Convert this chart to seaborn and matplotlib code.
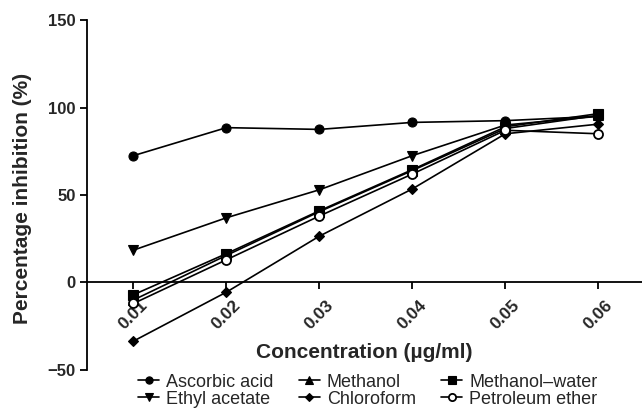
import matplotlib
matplotlib.use('Agg')
import matplotlib.pyplot as plt
import seaborn as sns

# Values
concentration = [0.01, 0.02, 0.03, 0.04, 0.05, 0.06]
ascorbic_acid = [72.5, 88.5, 87.5, 91.5, 92.5, 95]
ethyl_acetate = [18.5, 37, 53, 72.5, 90, 95]
methanol = [-10, 15.5, 40.5, 64, 88, 95.5]
chloroform = [-33.5, -5.5, 26.5, 53.5, 85, 90.5]
methanol_water = [-7, 16.5, 41, 64.5, 89, 96.5]
petroleum_ether = [-12, 13, 38, 62, 87, 85]
x_labels = ['0.01', '0.02', '0.03', '0.04', '0.05', '0.06']
y_ticks = [-50, 0, 50, 100, 150]
y_labels = ['\u221250', '0', '50', '100', '150']

sns.set_style('ticks')
plt.rcParams['font.family'] = ['Liberation Sans', 'DejaVu Sans']

fig = plt.figure(figsize=(6.42, 4.09), dpi=100)
ax = fig.add_axes([0.1355, 0.0954, 0.8645, 0.8556])

# order matters: legend fills column by column
series = [
    ('Ascorbic acid', ascorbic_acid, 'o', 'black'),
    ('Ethyl acetate', ethyl_acetate, 'v', 'black'),
    ('Methanol', methanol, '^', 'black'),
    ('Chloroform', chloroform, 'D', 'black'),
    ('Methanol\u2013water', methanol_water, 's', 'black'),
    ('Petroleum ether', petroleum_ether, 'o', 'white'),
]

for name, vals, mk, face in series:
    ms = 5 if mk == 'D' else 6.5
    sns.lineplot(x=concentration, y=vals, ax=ax, color='black', lw=1.2,
                 marker=mk, markersize=ms, markerfacecolor=face,
                 markeredgecolor='black', markeredgewidth=1.3 if face == 'white' else 0.8,
                 label=name, legend=False)

# spine position first - it resets the tick settings
ax.spines['top'].set_visible(False)
ax.spines['right'].set_visible(False)
ax.spines['bottom'].set_position(('data', 0))
for s in ['left', 'bottom']:
    ax.spines[s].set_linewidth(1.3)
    ax.spines[s].set_color('black')

ax.set_xlim(0.005, 0.0647)
ax.set_ylim(-50, 150)
ax.set_yticks(y_ticks)
ax.set_yticklabels(y_labels)
ax.set_xticks(concentration)
ax.set_xticklabels(x_labels, rotation=45, ha='center', va='top')
ax.tick_params(axis='both', length=5, width=1.3, color='black', labelsize=12)
ax.tick_params(axis='x', pad=6, labelsize=12.5)
ax.tick_params(axis='y', pad=3)
for lab in ax.get_xticklabels() + ax.get_yticklabels():
    lab.set_fontweight('bold')

ax.set_xlabel('Concentration (\u00b5g/ml)', fontsize=15, fontweight='bold')
ax.xaxis.set_label_coords(0.5, 0.051)
ax.xaxis.label.set_va('center')
ax.set_ylabel('Percentage inhibition (%)', fontsize=15, fontweight='bold')
ax.yaxis.set_label_coords(-0.117, 0.49)
ax.yaxis.label.set_va('center')

handles, labels = ax.get_legend_handles_labels()
leg = fig.legend(handles, labels, ncol=3, loc='upper center',
                 bbox_to_anchor=(0.573, 0.113), frameon=False, fontsize=13,
                 handlelength=1.15, handletextpad=0.4, labelspacing=0.0,
                 columnspacing=1.4, markerscale=0.8, borderaxespad=0.2)

fig.savefig('out.png', dpi=100)
